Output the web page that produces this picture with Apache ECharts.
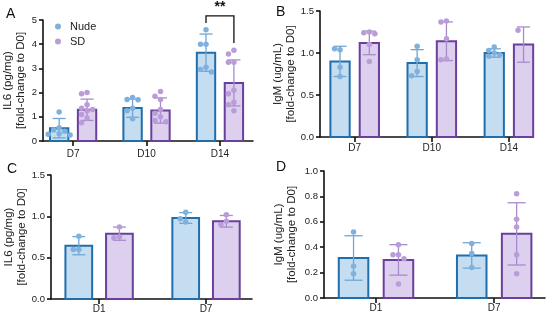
<!DOCTYPE html>
<html><head><meta charset="utf-8">
<script src="https://cdn.jsdelivr.net/npm/echarts@6/dist/echarts.min.js"></script>
<style>html,body{margin:0;padding:0;background:#fff}#c{width:550px;height:320px}</style>
</head><body><div id="c"></div>
<script>
// ---------- DATA ----------
const seriesNames = ['Nude', 'SD'];

// Panel A: IL6 (pg/mg)
const catsA = ['D7', 'D10', 'D14'];
const nudeMeanA = [0.53, 1.36, 3.65];
const nudeSdA   = [0.40, 0.38, 0.77];
const sdMeanA   = [1.29, 1.26, 2.40];
const sdSdA     = [0.44, 0.52, 0.95];
const nudePtsA  = [[1.2, 0.55, 0.45, 0.4, 0.3, 0.28, 0.25], [1.8, 1.72, 1.7, 1.35, 1.25, 0.92], [4.6, 4.0, 4.0, 3.05, 2.95, 2.85]];
const sdPtsA    = [[2.0, 1.95, 1.5, 1.35, 1.3, 1.25, 1.1, 0.95, 0.75], [2.05, 1.85, 1.72, 1.3, 1.15, 1.0, 0.85, 0.8], [3.75, 3.6, 3.25, 3.25, 2.1, 1.95, 1.6, 1.5, 1.25]];
const yTicksA   = [0, 1, 2, 3, 4, 5];
const sigA      = { cat: 2, label: '**', top: 5.17, left: 4.88, right: 4.05 };

// Panel B: IgM (ug/mL)
const catsB = ['D7', 'D10', 'D14'];
const nudeMeanB = [0.90, 0.88, 1.00];
const nudeSdB   = [0.18, 0.16, 0.05];
const sdMeanB   = [1.12, 1.14, 1.10];
const sdSdB     = [0.14, 0.23, 0.21];
const nudePtsB  = [[1.04, 1.05, 0.83, 0.72], [1.08, 0.92, 0.78, 0.73], [1.07, 1.03, 1.0, 0.98, 0.96]];
const sdPtsB    = [[1.25, 1.24, 1.23, 1.1, 0.9], [1.38, 1.37, 1.17, 0.93, 0.92], [1.31, 1.27, 1.15, 1.07, 0.81]];
const yTicksB   = [0, 0.5, 1.0, 1.5];

// Panel C: IL6 (pg/mg)
const catsC = ['D1', 'D7'];
const nudeMeanC = [0.645, 0.98];
const nudeSdC   = [0.11, 0.065];
const sdMeanC   = [0.79, 0.94];
const sdSdC     = [0.08, 0.07];
const nudePtsC  = [[0.76, 0.6, 0.6], [1.05, 0.93, 0.97]];
const sdPtsC    = [[0.87, 0.75, 0.74], [1.02, 0.94, 0.9]];
const yTicksC   = [0, 0.5, 1.0, 1.5];

// Panel D: IgM (ug/mL)
const catsD = ['D1', 'D7'];
const nudeMeanD = [0.315, 0.335];
const nudeSdD   = [0.175, 0.10];
const sdMeanD   = [0.30, 0.505];
const sdSdD     = [0.12, 0.245];
const nudePtsD  = [[0.52, 0.25, 0.19], [0.43, 0.35, 0.24]];
const sdPtsD    = [[0.42, 0.34, 0.34, 0.31, 0.11], [0.82, 0.62, 0.56, 0.34, 0.19]];
const yTicksD   = [0, 0.2, 0.4, 0.6, 0.8, 1.0];

// ---------- STYLE / LAYOUT ----------
const FONT = "'Liberation Sans', Arial, Helvetica, sans-serif";
const COL = {
  Nude: { fill: '#c5ddf1', stroke: '#1f6ead', dot: '#7fb1dc', err: '#6fa6d5' },
  SD:   { fill: '#ddcfee', stroke: '#6b3f9d', dot: '#b99cd8', err: '#a88bcd' }
};
const panels = [
  { letter: 'A', letterPos: [6, 7], cats: catsA, nm: nudeMeanA, ns: nudeSdA, sm: sdMeanA, ss: sdSdA, np: nudePtsA, sp: sdPtsA, ticks: yTicksA, dec: 0,
    title: 'IL6 (pg/mg)\n[fold-change to D0]', grid: { left: 43, top: 20, width: 210, height: 121 }, xr: [-0.41, 2.45], nameGap: 15, xMargin: 8, cap: 13, sig: sigA },
  { letter: 'B', letterPos: [276, 5], cats: catsB, nm: nudeMeanB, ns: nudeSdB, sm: sdMeanB, ss: sdSdB, np: nudePtsB, sp: sdPtsB, ticks: yTicksB, dec: 1,
    title: 'IgM (ug/mL)\n[fold-change to D0]', grid: { left: 320, top: 11, width: 202, height: 126 }, xr: [-0.45, 2.17], nameGap: 22, xMargin: 6, cap: 13 },
  { letter: 'C', letterPos: [7, 162], cats: catsC, nm: nudeMeanC, ns: nudeSdC, sm: sdMeanC, ss: sdSdC, np: nudePtsC, sp: sdPtsC, ticks: yTicksC, dec: 1,
    title: 'IL6 (pg/mg)\n[fold-change to D0]', grid: { left: 51, top: 175, width: 201, height: 124 }, xr: [-0.45, 1.43], nameGap: 23, xMargin: 5, cap: 13 },
  { letter: 'D', letterPos: [276, 160], cats: catsD, nm: nudeMeanD, ns: nudeSdD, sm: sdMeanD, ss: sdSdD, np: nudePtsD, sp: sdPtsD, ticks: yTicksD, dec: 1,
    title: 'IgM (ug/mL)\n[fold-change to D0]', grid: { left: 324, top: 171, width: 221, height: 127 }, xr: [-0.44, 1.43], nameGap: 26, xMargin: 5, cap: 18 }
];
const OFFSET = 0.19;   // group offset in category units
const BARW = 0.25;     // bar width in category units
const DOT = 5.5;

function swarm(vals, center, pxX, pxY) {
  const placed = [];
  return vals.map(v => {
    const cands = [0, -1, 1, -2, 2, -3, 3];
    let chosen = cands[cands.length - 1] * DOT;
    for (const k of cands) {
      const xo = k * DOT;
      if (placed.every(p => Math.hypot(p.xo - xo, (p.v - v) * pxY) >= DOT)) { chosen = xo; break; }
    }
    placed.push({ xo: chosen, v });
    return [center + chosen / pxX, v];
  });
}

const grids = [], xAxes = [], yAxes = [], series = [], titles = [];
panels.forEach((p, i) => {
  grids.push(Object.assign({ containLabel: false }, p.grid));
  const idx = p.cats.map((c, j) => j);
  const ymin = p.ticks[0], ymax = p.ticks[p.ticks.length - 1], yint = p.ticks[1] - p.ticks[0];
  xAxes.push({
    type: 'value', gridIndex: i, min: p.xr[0], max: p.xr[1],
    axisLine: { show: true, onZero: false, lineStyle: { color: '#111', width: 1.6 } },
    axisTick: { show: true, customValues: idx, length: 5, lineStyle: { color: '#111', width: 1.6 } },
    axisLabel: { show: true, customValues: idx, formatter: v => p.cats[Math.round(v)], margin: p.xMargin, fontSize: 10, color: '#222', fontFamily: FONT },
    splitLine: { show: false }
  });
  yAxes.push({
    type: 'value', gridIndex: i, min: ymin, max: ymax, interval: yint,
    name: p.title, nameLocation: 'middle', nameRotate: 90, nameGap: p.nameGap,
    nameTextStyle: { fontSize: 11.5, lineHeight: 13, color: '#222', fontFamily: FONT },
    axisLine: { show: true, onZero: false, lineStyle: { color: '#111', width: 1.6 } },
    axisTick: { show: true, length: 4, lineStyle: { color: '#111', width: 1.6 } },
    axisLabel: { formatter: v => v.toFixed(p.dec), margin: 6, fontSize: 9.5, color: '#222', fontFamily: FONT },
    splitLine: { show: false }
  });
  titles.push({ text: p.letter, left: p.letterPos[0], top: p.letterPos[1], padding: 0,
    textStyle: { fontSize: 14, fontWeight: 'normal', color: '#111', fontFamily: FONT } });

  const pxX = p.grid.width / (p.xr[1] - p.xr[0]);
  const pxY = p.grid.height / (ymax - ymin);
  const groups = [
    { name: 'Nude', means: p.nm, sds: p.ns, pts: p.np, off: -OFFSET },
    { name: 'SD', means: p.sm, sds: p.ss, pts: p.sp, off: OFFSET }
  ];
  groups.forEach(g => {
    const c = COL[g.name];
    series.push({
      type: 'custom', name: g.name + ' bar', xAxisIndex: i, yAxisIndex: i, z: 2,
      data: g.means.map((m, j) => [j + g.off, m]),
      renderItem: (params, api) => {
        const x = api.value(0), y = api.value(1);
        const top = api.coord([x, y]), base = api.coord([x, 0]);
        const w = api.size([BARW, 0])[0];
        return { type: 'rect', shape: { x: top[0] - w / 2, y: top[1], width: w, height: base[1] - top[1] },
          style: { fill: c.fill, stroke: c.stroke, lineWidth: 2 } };
      }
    });
  });
  groups.forEach(g => {
    const c = COL[g.name];
    series.push({
      type: 'custom', name: g.name + ' err', xAxisIndex: i, yAxisIndex: i, z: 3,
      data: g.means.map((m, j) => [j + g.off, m, g.sds[j]]),
      renderItem: (params, api) => {
        const x = api.value(0), m = api.value(1), s = api.value(2);
        const hi = api.coord([x, m + s]), lo = api.coord([x, Math.max(m - s, 0)]);
        const st = { stroke: c.err, lineWidth: 1.3 };
        const h = p.cap / 2;
        return { type: 'group', children: [
          { type: 'line', shape: { x1: hi[0], y1: hi[1], x2: lo[0], y2: lo[1] }, style: st },
          { type: 'line', shape: { x1: hi[0] - h, y1: hi[1], x2: hi[0] + h, y2: hi[1] }, style: st },
          { type: 'line', shape: { x1: lo[0] - h, y1: lo[1], x2: lo[0] + h, y2: lo[1] }, style: st }
        ] };
      }
    });
    const pts = [];
    g.pts.forEach((vals, j) => { swarm(vals, j + g.off, pxX, pxY).forEach(d => pts.push(d)); });
    series.push({
      type: 'scatter', name: g.name, xAxisIndex: i, yAxisIndex: i, z: 4,
      symbol: 'circle', symbolSize: DOT, itemStyle: { color: c.dot, opacity: 1 },
      data: pts, silent: true
    });
  });
  if (p.sig) {
    const s = p.sig;
    series.push({
      type: 'custom', name: 'sig', xAxisIndex: i, yAxisIndex: i, z: 5, clip: false,
      data: [[s.cat, s.top, s.left, s.right]],
      renderItem: (params, api) => {
        const x = api.value(0);
        const a = api.coord([x - OFFSET, api.value(2)]), b = api.coord([x - OFFSET, api.value(1)]);
        const c2 = api.coord([x + OFFSET, api.value(1)]), d = api.coord([x + OFFSET, api.value(3)]);
        return { type: 'group', children: [
          { type: 'polyline', shape: { points: [a, b, c2, d] }, style: { stroke: '#111', lineWidth: 1.3, fill: null } },
          { type: 'text', x: (b[0] + c2[0]) / 2, y: b[1] - 2,
            style: { text: s.label, fontSize: 14, fontWeight: 'bold', fill: '#111', align: 'center', verticalAlign: 'bottom', fontFamily: FONT } }
        ] };
      }
    });
  }
});

const chart = echarts.init(document.getElementById('c'), null, { renderer: 'canvas' });
chart.setOption({
  animation: false,
  backgroundColor: '#fff',
  title: titles,
  legend: {
    data: seriesNames, left: 50, top: 16, orient: 'vertical', itemWidth: 6, itemHeight: 6, itemGap: 4,
    icon: 'circle', selectedMode: false,
    textStyle: { fontSize: 11, color: '#222', fontFamily: FONT, padding: [0, 0, 0, 4] }
  },
  grid: grids, xAxis: xAxes, yAxis: yAxes, series: series
});
</script>
</body></html>
